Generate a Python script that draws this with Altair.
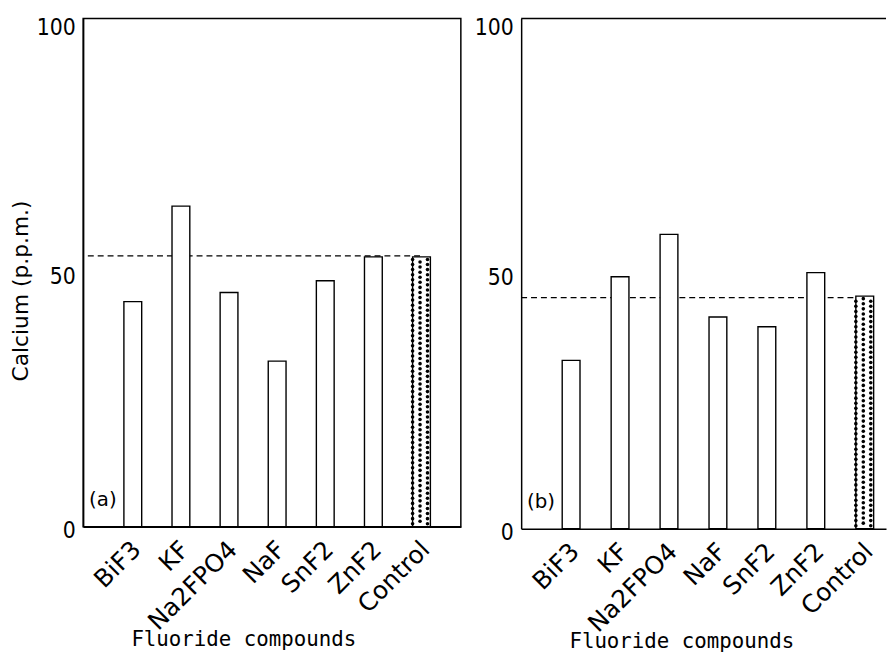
import altair as alt
import pandas as pd

compounds = ["BiF3", "KF", "Na2FPO4", "NaF", "SnF2", "ZnF2", "Control"]
calcium_a = [44.3, 63.1, 46.1, 32.6, 48.4, 53.1, 53.1]
calcium_b = [33.0, 49.4, 57.7, 41.5, 39.6, 50.2, 45.6]
control_level_a = 53.3
control_level_b = 45.3
y_ticks = [0, 50, 100]
panel_tags = ["(a)", "(b)"]


def panel(values, level, tag, width, height, xscale, left):
    df = pd.DataFrame({"compound": compounds, "value": values})
    xs = alt.Scale(domain=compounds, **xscale)
    x_axis = alt.Axis(
        labelAngle=-45, labelFont="DejaVu Sans", labelFontSize=25,
        labelOffset=-3, labelPadding=10, labelColor="black", ticks=False,
        domain=True, domainColor="black", domainWidth=1.5,
        title="Fluoride compounds", titleFont="DejaVu Sans Mono",
        titleFontSize=21, titleFontWeight="normal", titleColor="black",
        titleX=162, titleY=120, titleBaseline="alphabetic", titleAlign="center",
    )
    y_axis = alt.Axis(
        values=y_ticks, labelFont="Liberation Sans Narrow, DejaVu Sans Condensed, Liberation Sans",
        labelFontSize=23,
        labelColor="black", ticks=False, labelPadding=8, grid=False,
        domain=True, domainColor="black", domainWidth=1.5,
        labelOffset=alt.condition("datum.value == 100", alt.value(9), alt.value(4)),
        title="Calcium  (p.p.m.)" if left else None,
        titleFont="DejaVu Sans", titleFontSize=22, titleFontWeight="normal",
        titleColor="black", titlePadding=4, titleY=275,
    )
    ys = alt.Scale(domain=[0, 100], nice=False)
    x = alt.X("compound:N", sort=compounds, scale=xs, axis=x_axis)
    y = alt.Y("value:Q", scale=ys, axis=y_axis)

    base = alt.Chart(df)
    ref = base.transform_filter("datum.compound == 'Control'").mark_rule(
        color="black", strokeDash=[6, 4], strokeWidth=1.2
    ).encode(
        x=x,
        x2=alt.value(0),
        y=alt.Y(datum=level, scale=ys, axis=y_axis),
    )
    bars = base.mark_bar(fill="white", stroke="black", strokeWidth=1.4).encode(x=x, y=y)
    dots = (
        base.transform_filter("datum.compound == 'Control'")
        .transform_calculate(row="sequence(0, datum.value, 1.0)", col="[0, 1, 2]")
        .transform_flatten(["row"])
        .transform_flatten(["col"])
        .transform_calculate(yy="datum.row + 0.6 + (datum.col == 1 ? 0.5 : 0)")
        .transform_filter("datum.yy < datum.value - 0.3")
        .mark_point(filled=True, shape="circle", size=13, color="black", opacity=1)
        .encode(
            x=x,
            xOffset=alt.XOffset("col:O", scale=alt.Scale(paddingInner=0, paddingOuter=0)),
            y=alt.Y("yy:Q", scale=ys, axis=y_axis),
        )
    )
    label = base.transform_filter("datum.compound == 'BiF3'").mark_text(
        text=tag, font="DejaVu Sans", fontSize=20, align="left", baseline="middle", color="black"
    ).encode(x=alt.value(6), y=alt.Y(datum=5.3, scale=ys, axis=y_axis))
    layers = [ref, bars, dots, label]
    if not left:
        top = base.transform_filter("datum.compound == 'BiF3'").mark_rule(
            color="black", strokeWidth=1.5
        ).encode(y=alt.Y(datum=100, scale=ys, axis=y_axis))
        layers.append(top)
    ch = alt.layer(*layers).properties(width=width, height=height)
    if left:
        ch = ch.properties(view=alt.ViewBackground(stroke="black", strokeWidth=1.5))
    else:
        ch = ch.properties(view=alt.ViewBackground(stroke=None))
    return ch


left = panel(calcium_a, control_level_a, panel_tags[0], 382, 514,
             dict(paddingInner=0.69, paddingOuter=0.77, align=0.55), True)
right = panel(calcium_b, control_level_b, panel_tags[1], 369, 516,
              dict(paddingInner=0.697, paddingOuter=0.576, align=0.728), False)

chart = alt.hconcat(left, right, spacing=12).properties(
    padding={"left": 0, "top": 4, "right": 0, "bottom": 0}
).configure_axisY(
    titleFont="DejaVu Sans", titleFontSize=22, titleFontWeight="normal", titleColor="black"
).configure(background="white")

chart.save("out.html", embed_options={"renderer": "svg", "actions": False})
